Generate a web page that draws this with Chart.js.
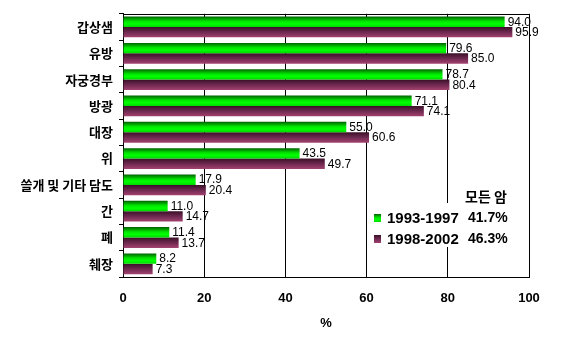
<!DOCTYPE html>
<html>
<head>
<meta charset="utf-8">
<script src="https://cdn.jsdelivr.net/npm/chart.js@4/dist/chart.umd.min.js"></script>
<style>
html,body{margin:0;padding:0;background:#fff;}
#wrap{width:572px;height:356px;position:relative;}
</style>
</head>
<body>
<div id="wrap"><canvas id="c" width="572" height="356"></canvas></div>
<script>
const categories = ['갑상샘','유방','자궁경부','방광','대장','위','쓸개 및 기타 담도','간','폐','췌장'];
const series1993 = [94.0, 79.6, 78.7, 71.1, 55.0, 43.5, 17.9, 11.0, 11.4, 8.2];
const series1998 = [95.9, 85.0, 80.4, 74.1, 60.6, 49.7, 20.4, 14.7, 13.7, 7.3];
const seriesNames = ['1993-1997', '1998-2002'];
const seriesTotals = ['41.7%', '46.3%'];
const legendTitle = '모든 암';
const axisTitle = '%';

const CAT_PCT = 0.79;
const NUM_FONT = '"Liberation Sans", Arial, sans-serif';
const KR_FONT = '"Noto Sans CJK KR", "Noto Sans", sans-serif';
const baseColors = ['#00e400', '#6e2950'];

function greenGrad(ctx, top, h) {
  const g = ctx.createLinearGradient(0, top, 0, top + h);
  g.addColorStop(0, '#006000');
  g.addColorStop(0.45, '#00e400');
  g.addColorStop(0.7, '#00ff00');
  g.addColorStop(1, '#00d800');
  return g;
}
function purpleGrad(ctx, top, h) {
  const g = ctx.createLinearGradient(0, top, 0, top + h);
  g.addColorStop(0, '#3a0f27');
  g.addColorStop(0.5, '#6e2950');
  g.addColorStop(1, '#a3416f');
  return g;
}
const gradFns = [greenGrad, purpleGrad];

function barFill(context) {
  const chart = context.chart;
  const ys = chart.scales && chart.scales.y;
  const di = context.datasetIndex || 0;
  if (!ys || context.dataIndex === undefined) return baseColors[di];
  const center = ys.getPixelForValue(context.dataIndex);
  const cat = ys.height / categories.length;
  const h = cat * CAT_PCT / 2;
  const top = di === 0 ? center - h : center;
  if (!isFinite(top) || !isFinite(h) || h <= 0) return baseColors[di];
  return gradFns[di](chart.ctx, top, h);
}

const frame = {
  id: 'frame',
  afterDraw(chart) {
    const {ctx, chartArea: a} = chart;
    ctx.save();
    ctx.strokeStyle = '#000';
    ctx.lineWidth = 1;
    ctx.beginPath();
    ctx.moveTo(a.left, Math.round(a.top) + 0.5);
    ctx.lineTo(a.right + 0.5, Math.round(a.top) + 0.5);
    ctx.stroke();
    ctx.restore();
  }
};

const valueLabels = {
  id: 'valueLabels',
  afterDatasetsDraw(chart) {
    const ctx = chart.ctx;
    ctx.save();
    ctx.font = '12px ' + NUM_FONT;
    ctx.fillStyle = '#000';
    ctx.textBaseline = 'middle';
    ctx.textAlign = 'left';
    chart.data.datasets.forEach((ds, di) => {
      const meta = chart.getDatasetMeta(di);
      meta.data.forEach((el, i) => {
        ctx.fillText(ds.data[i].toFixed(1), el.x + 3, el.y + 0.5);
      });
    });
    ctx.restore();
  }
};

const customLegend = {
  id: 'customLegend',
  afterDraw(chart) {
    const ctx = chart.ctx;
    ctx.save();
    ctx.fillStyle = '#fff';
    ctx.fillRect(370, 203, 146, 44);
    ctx.fillStyle = '#000';
    ctx.textBaseline = 'middle';
    ctx.textAlign = 'left';
    ctx.font = 'bold 14px ' + KR_FONT;
    ctx.fillText(legendTitle, 465, 197);
    const rowY = [218, 239];
    seriesNames.forEach((name, i) => {
      const y = rowY[i];
      ctx.fillStyle = gradFns[i](ctx, y - 4, 8);
      ctx.fillRect(374, y - 4, 7, 8);
      ctx.fillStyle = '#000';
      ctx.font = 'bold 15px ' + NUM_FONT;
      ctx.fillText(name, 387, y + 0.5);
      ctx.font = 'bold 14px ' + NUM_FONT;
      ctx.fillText(seriesTotals[i], 468, y + 0.5);
    });
    ctx.restore();
  }
};

new Chart(document.getElementById('c'), {
  type: 'bar',
  data: {
    labels: categories,
    datasets: [
      { label: seriesNames[0], data: series1993, backgroundColor: barFill, borderWidth: 0 },
      { label: seriesNames[1], data: series1998, backgroundColor: barFill, borderWidth: 0 }
    ]
  },
  options: {
    indexAxis: 'y',
    responsive: false,
    animation: false,
    devicePixelRatio: 1,
    categoryPercentage: CAT_PCT,
    barPercentage: 1.0,
    layout: { padding: { top: 12, right: 43, left: 0, bottom: 0 } },
    plugins: { legend: { display: false }, tooltip: { enabled: false } },
    scales: {
      x: {
        min: 0, max: 100,
        ticks: { stepSize: 20, color: '#000', font: { family: NUM_FONT, size: 13, weight: 'bold' }, padding: 14, maxRotation: 0 },
        grid: { color: '#000', lineWidth: 1, drawTicks: false },
        border: { color: '#000', width: 1 },
        title: { display: true, text: axisTitle, color: '#000', font: { family: NUM_FONT, size: 13, weight: 'bold' }, padding: { top: 10, bottom: 25 } },
        afterFit(scale) { scale.height = 79; }
      },
      y: {
        offset: true,
        ticks: { color: '#000', font: { family: KR_FONT, size: 13, weight: 'bold' }, padding: 6, autoSkip: false },
        grid: { offset: true, drawOnChartArea: false, color: '#000', tickLength: 4 },
        border: { color: '#000', width: 1 },
        afterFit(scale) { scale.width = 123; }
      }
    }
  },
  plugins: [frame, valueLabels, customLegend]
});
</script>
</body>
</html>
